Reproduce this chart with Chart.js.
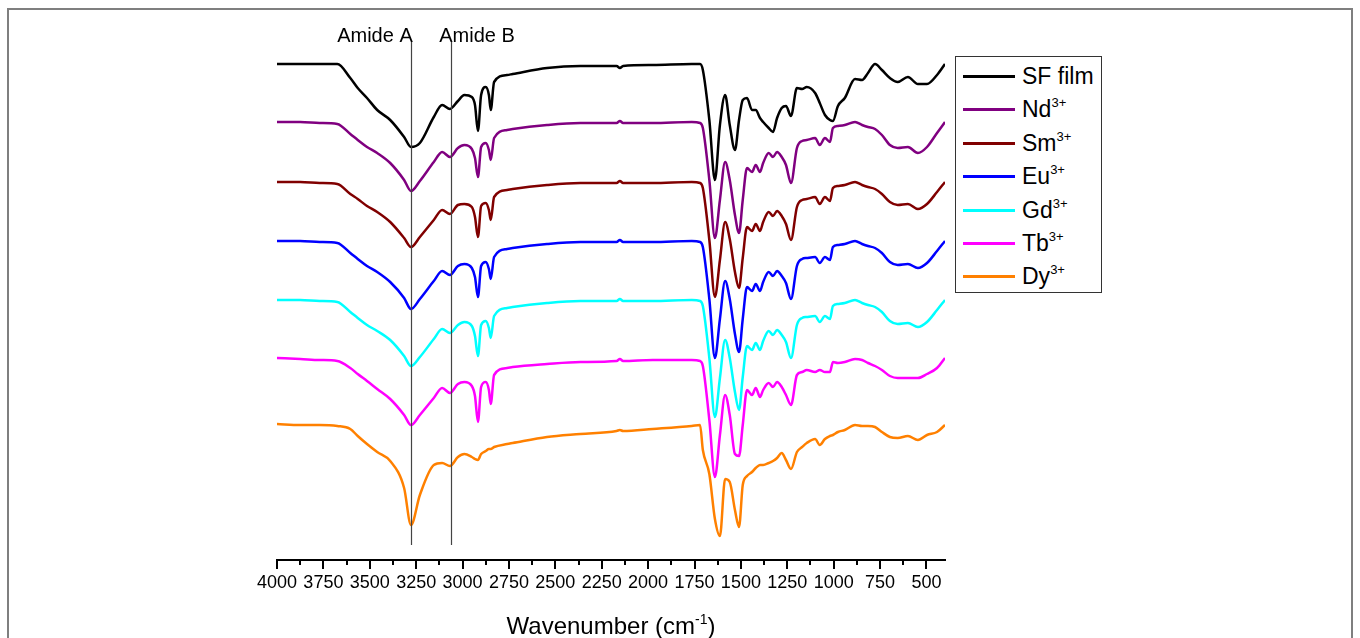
<!DOCTYPE html>
<html>
<head>
<meta charset="utf-8">
<title>FTIR spectra</title>
<script src="https://cdn.jsdelivr.net/npm/chart.js@4.4.1/dist/chart.umd.min.js"></script>
<style>
  html, body { margin: 0; padding: 0; background: #fff; }
  #wrap { position: relative; width: 1360px; height: 638px; overflow: hidden;
          font-family: "Liberation Sans", Arial, sans-serif; color: #000; }
  #frame { position: absolute; left: 7px; top: 8px; width: 1342px; height: 700px;
           border: 2px solid #7f7f7f; }
  #chart { position: absolute; left: 0; top: 0; }
  #legend { position: absolute; left: 955px; top: 56px; width: 145px; height: 235px;
            border: 1px solid #333; background: #fff; }
  #legend .row { position: absolute; left: 0; width: 145px; height: 34px; line-height: 34px;
                 font-size: 23px; white-space: nowrap; }
  #legend .sw { position: absolute; left: 7px; top: 16px; width: 52px; height: 3px; }
  #legend .txt { position: absolute; left: 66px; top: 0; }
  #legend sup { font-size: 13px; vertical-align: 10px; line-height: 0; }
</style>
</head>
<body>
<div id="wrap">
  <div id="frame"></div>
  <canvas id="chart" width="1360" height="638"></canvas>
  <div id="legend"></div>
</div>
<script>
/* ── Data ─────────────────────────────────────────────────────────────── */
// wavenumber grid, cm-1
const wavenumbers = [4000, 3875, 3770, 3675, 3605, 3565, 3515, 3460, 3390, 3315,
  3278, 3230, 3155, 3110, 3068, 3025, 2990, 2950, 2933, 2917,
  2900, 2875, 2858, 2848, 2830, 2760, 2730, 2545, 2365, 2170,
  2152, 2135, 1975, 1765, 1720, 1705, 1670, 1640, 1613, 1585,
  1560, 1532, 1510, 1490, 1467, 1440, 1420, 1397, 1380, 1350,
  1327, 1305, 1280, 1257, 1230, 1198, 1170, 1145, 1100, 1075,
  1047, 1020, 1004, 977, 940, 885, 847, 815, 777, 740,
  697, 655, 600, 546, 497, 443, 400];

// transmittance change relative to each trace's own baseline (a.u.)
const sfFilm = [0, 0, 0, 0, -14, -24, -34, -46, -56, -73,
  -83, -79, -53, -41, -45, -37, -31, -33, -41, -67,
  -31, -23, -31, -46, -18, -11, -10, -4, -2, -2,
  -4, -2, -1, 0, 0, -6, -56, -116, -61, -31,
  -61, -86, -56, -36, -34, -46, -46, -54, -58, -64,
  -68, -54, -44, -42, -52, -24, -25, -23, -29, -39,
  -51, -56, -57, -42, -34, -15, -16, -9, 0, -6,
  -14, -18, -13, -20, -20, -11, 0];
const nd = [0, 0, -1, -2, -12, -18, -25, -31, -41, -58,
  -69, -59, -40, -30, -35, -26, -23, -27, -36, -55,
  -25, -21, -28, -38, -16, -8, -7, -3, -1, -1,
  1, -1, -1, 0, -1, -6, -58, -116, -78, -40,
  -58, -93, -111, -78, -46, -50, -43, -50, -41, -31,
  -35, -30, -35, -43, -61, -26, -19, -18, -16, -23,
  -16, -20, -6, -4, -3, 0, -3, -5, -7, -13,
  -23, -26, -25, -31, -25, -11, 0];
const sm = [0, 0, -1, -2, -12, -17, -24, -30, -40, -56,
  -65, -55, -38, -28, -32, -23, -22, -25, -35, -55,
  -24, -21, -28, -38, -15, -8, -7, -3, -1, -1,
  1, -1, -1, 0, -1, -6, -58, -115, -78, -40,
  -57, -90, -106, -76, -45, -49, -42, -49, -40, -30,
  -34, -29, -34, -42, -58, -25, -18, -17, -15, -22,
  -15, -19, -6, -4, -3, 0, -3, -5, -7, -12,
  -20, -23, -22, -27, -22, -10, 0];
const eu = [0, 0, -1, -2, -12, -18, -25, -31, -41, -57,
  -68, -58, -40, -30, -34, -25, -23, -27, -36, -56,
  -25, -21, -28, -38, -16, -8, -7, -3, -1, -1,
  1, -1, -1, 0, -1, -6, -58, -117, -78, -40,
  -58, -93, -111, -78, -46, -50, -43, -50, -41, -31,
  -35, -30, -35, -42, -58, -25, -18, -17, -16, -22,
  -16, -19, -6, -4, -3, 0, -3, -5, -7, -12,
  -21, -24, -23, -27, -22, -10, 0];
const gd = [0, 0, -1, -2, -12, -18, -25, -31, -40, -56,
  -66, -57, -39, -29, -33, -25, -22, -26, -36, -56,
  -25, -21, -28, -38, -16, -8, -7, -3, -1, -1,
  1, -1, -1, 0, -1, -6, -58, -117, -78, -40,
  -58, -92, -110, -77, -46, -50, -43, -50, -41, -31,
  -35, -30, -35, -42, -58, -25, -18, -17, -16, -22,
  -16, -19, -6, -4, -3, 0, -3, -5, -7, -12,
  -21, -24, -23, -27, -22, -10, 0];
const tb = [2, 1, 0, -1, -8, -14, -21, -29, -39, -55,
  -65, -55, -38, -28, -33, -24, -22, -26, -36, -62,
  -27, -22, -30, -44, -15, -8, -7, -4, -2, -1,
  1, -1, 0, 0, -1, -6, -60, -117, -75, -35,
  -55, -94, -96, -65, -30, -35, -28, -37, -30, -23,
  -27, -22, -27, -35, -45, -15, -12, -10, -12, -10,
  -12, -12, -2, -3, -2, 1, 0, -3, -6, -10,
  -16, -18, -18, -18, -14, -8, 2];
const dy = [0, -1, -1, -2, -5, -12, -20, -28, -37, -64,
  -101, -71, -41, -39, -42, -33, -30, -33, -35, -36,
  -30, -27, -25, -25, -23, -20, -19, -13, -10, -7,
  -6, -7, -5, -2, -1, -26, -50, -95, -112, -55,
  -58, -86, -103, -61, -52, -48, -44, -41, -41, -39,
  -37, -34, -29, -36, -45, -28, -23, -19, -15, -21,
  -15, -12, -11, -8, -6, -1, -2, -2, -3, -8,
  -13, -14, -12, -16, -11, -8, -1];

const seriesNames = ['SF film', 'Nd', 'Sm', 'Eu', 'Gd', 'Tb', 'Dy'];
const seriesSup = ['', '3+', '3+', '3+', '3+', '3+', '3+'];
const seriesData = [sfFilm, nd, sm, eu, gd, tb, dy];
const seriesColors = ['#000000', '#800080', '#800000', '#0000ff', '#00ffff', '#ff00ff', '#ff8000'];
const offsets = [496, 438, 378, 319, 260, 200, 136];   // vertical stacking offsets

const amideLines = [3278, 3062];
const amideLabels = [{ text: 'Amide A', at: 3472 }, { text: 'Amide B', at: 2922 }];
const minorTicks = [3875, 3625, 3375, 3125, 2875, 2625, 2375, 2125, 1875, 1625, 1375, 1125, 875, 625];

/* ── Extra drawing: minor ticks, amide markers, axis title ────────────── */
const extras = {
  id: 'extras',
  afterDatasetsDraw(chart) {
    const { ctx, scales: { x, y } } = chart;
    ctx.save();
    ctx.lineWidth = 1.2;
    ctx.strokeStyle = '#444';
    amideLines.forEach(w => {
      const px = Math.round(x.getPixelForValue(w)) + 0.5;
      ctx.beginPath();
      ctx.moveTo(px, y.getPixelForValue(518));
      ctx.lineTo(px, y.getPixelForValue(15));
      ctx.stroke();
    });
    ctx.restore();
  },
  afterDraw(chart) {
    const { ctx, scales: { x } } = chart;
    const yb = chart.chartArea.bottom;
    ctx.save();
    // minor ticks
    ctx.strokeStyle = '#000';
    ctx.lineWidth = 2;
    minorTicks.forEach(w => {
      const px = Math.round(x.getPixelForValue(w));
      ctx.beginPath();
      ctx.moveTo(px, yb);
      ctx.lineTo(px, yb + 5);
      ctx.stroke();
    });
    // amide labels
    ctx.fillStyle = '#000';
    ctx.font = '20px "Liberation Sans", Arial, sans-serif';
    ctx.textAlign = 'center';
    ctx.textBaseline = 'middle';
    amideLabels.forEach(l => ctx.fillText(l.text, x.getPixelForValue(l.at), 36));
    // x axis title with superscript
    const main = 'Wavenumber (cm', sup = '-1', tail = ')';
    ctx.font = '24px "Liberation Sans", Arial, sans-serif';
    const wMain = ctx.measureText(main).width, wTail = ctx.measureText(tail).width;
    ctx.font = '14px "Liberation Sans", Arial, sans-serif';
    const wSup = ctx.measureText(sup).width;
    let cx = (x.left + x.right) / 2 - (wMain + wSup + wTail) / 2;
    const base = 634;
    ctx.textAlign = 'left';
    ctx.textBaseline = 'alphabetic';
    ctx.font = '24px "Liberation Sans", Arial, sans-serif';
    ctx.fillText(main, cx, base);
    cx += wMain;
    ctx.font = '14px "Liberation Sans", Arial, sans-serif';
    ctx.fillText(sup, cx, base - 10);
    cx += wSup;
    ctx.font = '24px "Liberation Sans", Arial, sans-serif';
    ctx.fillText(tail, cx, base);
    ctx.restore();
  }
};

/* ── Chart ────────────────────────────────────────────────────────────── */
const datasets = seriesData.map((vals, i) => ({
  label: seriesNames[i] + seriesSup[i],
  data: wavenumbers.map((w, k) => ({ x: w, y: offsets[i] + vals[k] })),
  borderColor: seriesColors[i],
  borderWidth: 2.5,
  pointRadius: 0,
  cubicInterpolationMode: 'monotone',
  fill: false,
  order: seriesData.length - 1 - i,
}));

new Chart(document.getElementById('chart').getContext('2d'), {
  type: 'line',
  data: { datasets },
  options: {
    responsive: false,
    animation: false,
    layout: { padding: { left: 277, right: 415, top: 40, bottom: 0 } },
    plugins: { legend: { display: false }, tooltip: { enabled: false } },
    scales: {
      x: {
        type: 'linear',
        reverse: true,
        min: 400,
        max: 4000,
        afterFit: (s) => { s.height = 78; },
        border: { display: true, color: '#000', width: 2 },
        grid: { display: true, drawOnChartArea: false, drawTicks: true,
                tickLength: 9, color: '#000', lineWidth: 2 },
        ticks: {
          stepSize: 250,
          includeBounds: false,
          autoSkip: false,
          maxRotation: 0,
          padding: 3,
          color: '#000',
          font: { family: '"Liberation Sans", Arial, sans-serif', size: 18 },
          callback: (v) => String(v),
        },
      },
      y: { display: false, min: 0, max: 520 },
    },
  },
  plugins: [extras],
});

/* ── Legend (HTML, for superscripts) ──────────────────────────────────── */
const legend = document.getElementById('legend');
seriesNames.forEach((name, i) => {
  const row = document.createElement('div');
  row.className = 'row';
  row.style.top = (2 + i * 33.4) + 'px';
  row.innerHTML = `<div class="sw" style="background:${seriesColors[i]}"></div>` +
    `<span class="txt">${name}${seriesSup[i] ? '<sup>' + seriesSup[i] + '</sup>' : ''}</span>`;
  legend.appendChild(row);
});
</script>
</body>
</html>
